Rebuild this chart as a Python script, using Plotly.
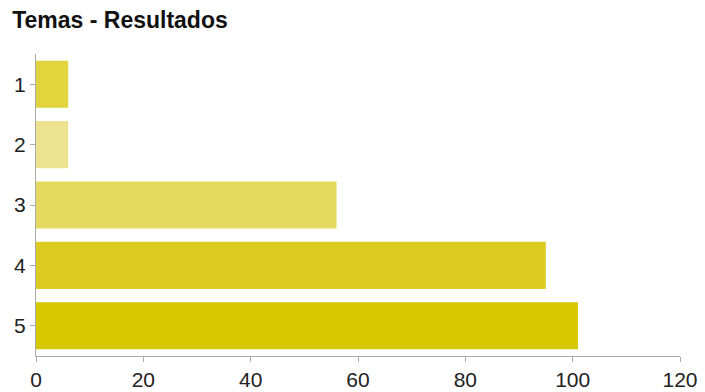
import plotly.graph_objects as go

categories = ["1", "2", "3", "4", "5"]
values = [6, 6, 56, 95, 101]
colors = ["#e2d43c", "#ece290", "#e5da60", "#dccc22", "#d8c800"]
x_ticks = [0, 20, 40, 60, 80, 100, 120]

fig = go.Figure(go.Bar(
    y=categories, x=values, orientation="h",
    marker=dict(color=colors, line=dict(width=0)),
))
fig.update_layout(
    width=697, height=384,
    margin=dict(l=28, r=25, t=46, b=36),
    paper_bgcolor="white", plot_bgcolor="white",
    bargap=0.22,
    showlegend=False,
    title=dict(text="<b>Temas - Resultados</b>", xref="container", x=0.006, xanchor="left",
               yref="container", y=0.968, yanchor="middle",
               font=dict(family="Liberation Sans, Arial", size=23, color="#111")),
    font=dict(family="Liberation Sans, Arial", size=21, color="#222"),
)
fig.update_xaxes(range=[0, 120], tickvals=x_ticks, showgrid=False, zeroline=False, automargin=False,
                 showline=True, linecolor="#aaa", linewidth=1, ticks="outside", ticklen=5, tickcolor="#aaa")
fig.update_yaxes(autorange="reversed", showgrid=False, zeroline=False, automargin=False,
                 showline=True, linecolor="#aaa", linewidth=1, ticks="outside", ticklen=5, tickcolor="#aaa")
fig.write_html("out.html")
